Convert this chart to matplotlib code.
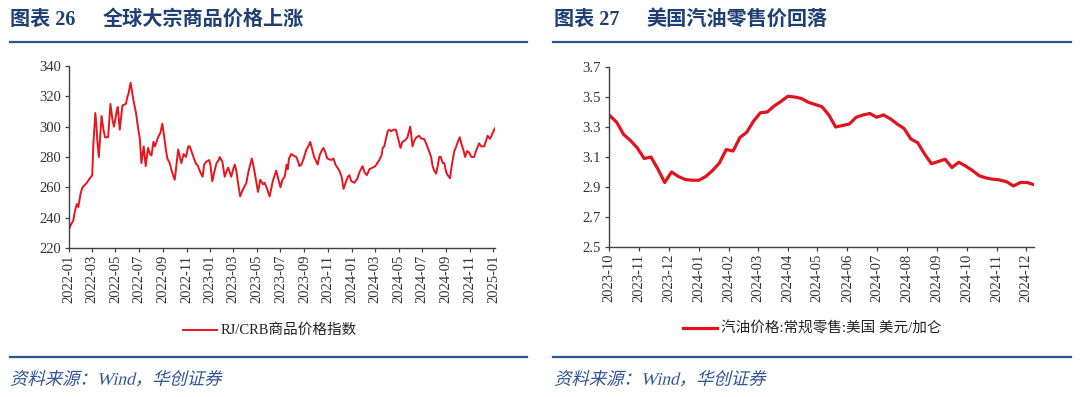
import numpy as np
import pandas as pd
import matplotlib
matplotlib.use('Agg')
import matplotlib.pyplot as plt
import matplotlib.dates as mdates
from matplotlib.patheffects import AbstractPathEffect
from matplotlib.transforms import Affine2D
from matplotlib.lines import Line2D

# ---------------- data ----------------
# RJ/CRB commodity index: days since 2022-01-01 and index level
crb_days = [1, 6, 11, 15, 20, 24, 30, 35, 46, 54, 60, 63, 68, 71, 73, 77, 84, 89, 93, 101,
            107, 112, 116, 123, 126, 131, 138, 147, 151, 153, 159, 166, 173, 179, 183, 187, 193, 198, 204, 209,
            213, 218, 222, 230, 236, 241, 246, 250, 254, 260, 265, 273, 277, 282, 286, 290, 296, 302, 308, 312,
            320, 327, 333, 339, 345, 349, 355, 362, 365, 370, 375, 381, 387, 389, 396, 402, 406, 411, 419, 424,
            428, 432, 437, 442, 448, 458, 463, 466, 472, 478, 482, 488, 494, 501, 505, 510, 518, 523, 526, 531,
            535, 539, 546, 551, 557, 562, 565, 568, 574, 579, 587, 593, 595, 600, 606, 613, 618, 623, 628, 633,
            637, 642, 647, 652, 657, 662, 667, 677, 683, 688, 693, 698, 704, 709, 713, 720, 724, 729, 737, 745,
            750, 758, 763, 769, 776, 784, 791, 796, 801, 807, 810, 814, 823, 827, 832, 838, 844, 850, 856, 861,
            868, 874, 881, 884, 887, 892, 897, 904, 910, 917, 922, 928, 935, 939, 943, 948, 952, 956, 960, 965,
            969, 974, 978, 984, 988, 995, 1000, 1004, 1009, 1014, 1018, 1023, 1028, 1033, 1039, 1046, 1051, 1059, 1064, 1072,
            1076, 1081, 1087, 1091, 1096, 1100]
crb_values = [233, 236, 238, 244, 249, 247, 256, 260, 263, 266, 268, 289, 309, 300, 291, 280, 307, 298, 293, 293,
              315, 305, 300, 310, 313, 298, 314, 315, 320, 321, 329, 318, 309, 298, 292, 276, 287, 274, 286, 282,
              281, 290, 287, 293, 296, 302, 293, 285, 279, 276, 271, 265, 274, 285, 280, 276, 282, 280, 287, 287,
              281, 276, 274, 270, 267, 275, 277, 278, 275, 264, 270, 276, 278, 280, 277, 267, 270, 273, 267, 272,
              275, 271, 262, 254, 258, 263, 270, 273, 279, 272, 266, 257, 265, 262, 263, 260, 254, 260, 264, 268,
              271, 267, 260, 265, 267, 275, 272, 279, 282, 281, 280, 276, 274, 275, 279, 285, 287, 290, 285, 280,
              278, 275, 281, 284, 286, 283, 279, 278, 279, 275, 273, 271, 267, 259, 262, 267, 268, 264, 263, 266,
              270, 274, 270, 268, 272, 273, 274, 276, 278, 281, 286, 287, 297, 298, 297, 298, 298, 292, 286, 290,
              291, 293, 300, 294, 287, 291, 293, 294, 292, 292, 289, 285, 280, 274, 271, 269, 274, 280, 280, 276,
              276, 270, 268, 266, 274, 284, 287, 290, 293, 288, 285, 280, 284, 283, 280, 280, 284, 289, 287, 287,
              290, 294, 292, 294, 297, 299]
crb_base = '2022-01-01'

# US regular retail gasoline price, weekly, USD/gallon
gas_start = '2023-10-02'
gas_values = [3.375, 3.33, 3.25, 3.21, 3.16, 3.09, 3.10, 3.02, 2.93, 3.00,
              2.97, 2.95, 2.945, 2.945, 2.97, 3.01, 3.06, 3.15, 3.14, 3.23,
              3.265, 3.34, 3.395, 3.40, 3.44, 3.47, 3.505, 3.50, 3.49, 3.465,
              3.45, 3.435, 3.38, 3.30, 3.31, 3.32, 3.365, 3.38, 3.39, 3.365,
              3.38, 3.355, 3.32, 3.29, 3.22, 3.195, 3.12, 3.055, 3.07, 3.085,
              3.03, 3.065, 3.04, 3.01, 2.975, 2.96, 2.952, 2.947, 2.935, 2.907,
              2.93, 2.93, 2.915]

left_title_no = '图表 26'
left_title = '全球大宗商品价格上涨'
right_title_no = '图表 27'
right_title = '美国汽油零售价回落'
left_legend = 'RJ/CRB商品价格指数'
right_legend = '汽油价格:常规零售:美国 美元/加仑'
source = '资料来源：Wind，华创证券'

left_yticks = [220, 240, 260, 280, 300, 320, 340]
right_yticks = [2.5, 2.7, 2.9, 3.1, 3.3, 3.5, 3.7]

# ---------------- style ----------------
W, H = 1080, 397
FONT = ['Liberation Serif', 'Noto Sans CJK SC', 'DejaVu Sans']
plt.rcParams['font.family'] = FONT
RED = '#e8141e'
RED2 = '#e0141e'
NAVY = '#1d3f73'
BLUE_LINE = '#2a5591'
SRC_BLUE = '#2e5596'
AX_COL = '#404040'


class Skew(AbstractPathEffect):
    def __init__(self, deg=12):
        super().__init__()
        self.t = Affine2D().skew_deg(deg, 0)

    def draw_path(self, renderer, gc, tpath, affine, rgbFace=None):
        renderer.draw_path(gc, tpath, self.t + affine, rgbFace)


def fx(x):
    return x / W


def fy(y):
    return 1 - y / H


fig = plt.figure(figsize=(W / 100, H / 100), dpi=100)

crb_dates = pd.Timestamp(crb_base) + pd.to_timedelta(crb_days, unit='D')
gas_dates = pd.date_range(gas_start, periods=len(gas_values), freq='7D')


def style_axes(ax):
    for s in ['top', 'right']:
        ax.spines[s].set_visible(False)
    for s in ['left', 'bottom']:
        ax.spines[s].set_color(AX_COL)
        ax.spines[s].set_linewidth(1.0)
    ax.tick_params(axis='both', colors=AX_COL, labelcolor='#333333', labelsize=10.5,
                   length=3, width=0.9, direction='out')
    ax.tick_params(axis='x', labelrotation=90, pad=2)
    ax.tick_params(axis='y', pad=3)


# left chart
axL = fig.add_axes([fx(69), fy(248), fx(495 - 69), (248 - 66) / H])
axL.plot(crb_dates, crb_values, color=RED, lw=1.4)
axL.set_ylim(220, 340)
axL.set_yticks(left_yticks)
ticksL = pd.date_range('2022-01-01', '2025-01-01', freq='2MS')
axL.set_xticks(ticksL)
axL.xaxis.set_major_formatter(mdates.DateFormatter('%Y-%m'))
axL.set_xlim(crb_dates[0] - pd.Timedelta(days=1), crb_dates[-1])
style_axes(axL)

# right chart
axR = fig.add_axes([fx(609), fy(247), fx(1034 - 609), (247 - 67) / H])
axR.plot(gas_dates, gas_values, color=RED2, lw=2.3, solid_joinstyle='round')
axR.set_ylim(2.5, 3.7)
axR.set_yticks(right_yticks)
axR.yaxis.set_major_formatter(matplotlib.ticker.FormatStrFormatter('%.1f'))
ticksR = pd.date_range('2023-10-01', '2024-12-01', freq='MS')
axR.set_xticks(ticksR)
axR.xaxis.set_major_formatter(mdates.DateFormatter('%Y-%m'))
axR.set_xlim(pd.Timestamp('2023-10-01'), gas_dates[-1])
style_axes(axR)

# titles
for x0, no, x1, t in [(10, left_title_no, 103, left_title), (554, right_title_no, 646, right_title)]:
    fig.text(fx(x0), fy(20), no, color=NAVY, fontsize=14.5, fontweight='bold', va='center', ha='left')
    fig.text(fx(x1), fy(20), t, color=NAVY, fontsize=14.5, fontweight='bold', va='center', ha='left')

# separator lines
for xa, xb in [(10, 527), (553, 1071)]:
    for yy in (42, 357):
        fig.add_artist(Line2D([fx(xa), fx(xb)], [fy(yy), fy(yy)], color=BLUE_LINE, lw=1.6))

# legends
fig.add_artist(Line2D([fx(183), fx(217)], [fy(330), fy(330)], color=RED, lw=1.4))
fig.text(fx(221), fy(330), left_legend, fontsize=10.5, color='#222222', va='center', ha='left')
fig.add_artist(Line2D([fx(683), fx(717)], [fy(328), fy(328)], color=RED2, lw=2.3))
fig.text(fx(721), fy(328), right_legend, fontsize=10.5, color='#222222', va='center', ha='left')

# sources
for x0 in (10, 554):
    fig.text(fx(x0), fy(380), source, fontsize=12.5, color=SRC_BLUE, va='center', ha='left',
             path_effects=[Skew(14)])

fig.savefig('out.png', dpi=100)
